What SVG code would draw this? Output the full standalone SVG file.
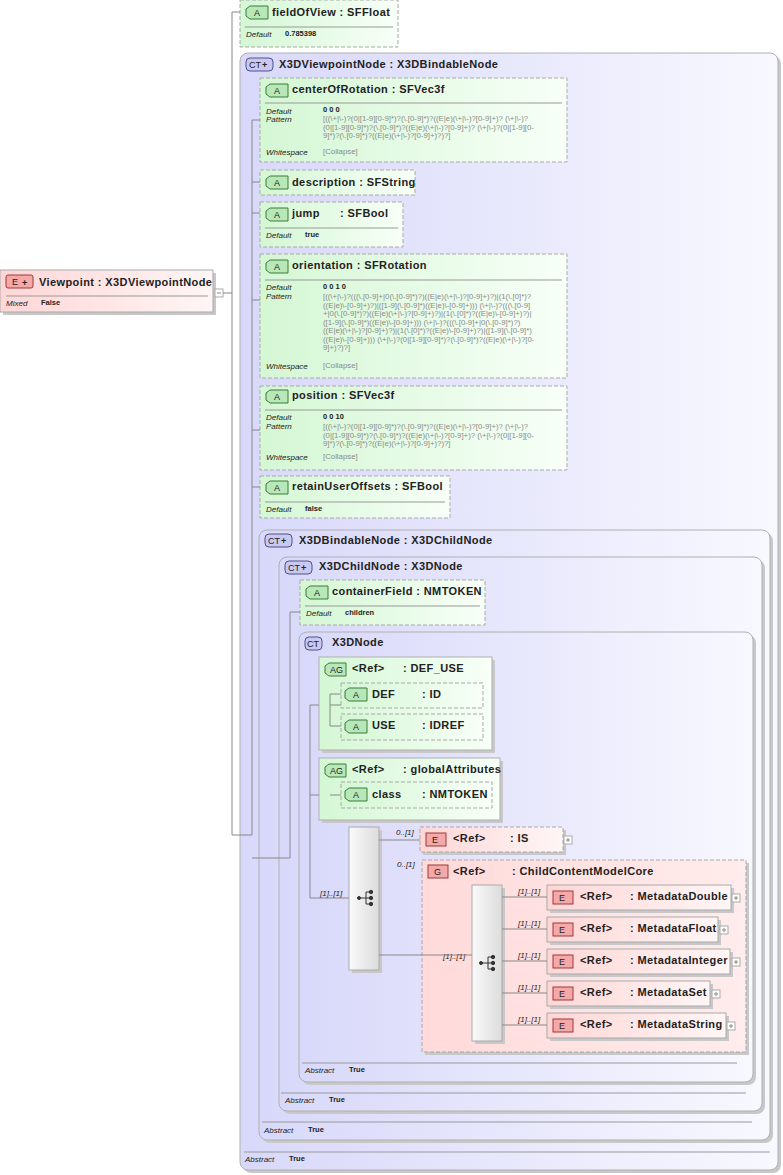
<svg xmlns="http://www.w3.org/2000/svg" width="783" height="1175" viewBox="0 0 783 1175">
<defs>
<linearGradient id="gA" x1="0" y1="0" x2="1" y2="0"><stop offset="0" stop-color="#d4f7d4"/><stop offset="1" stop-color="#f8fff8"/></linearGradient>
<linearGradient id="gE" x1="0" y1="0" x2="1" y2="0"><stop offset="0" stop-color="#ffd6d6"/><stop offset="1" stop-color="#fff6f6"/></linearGradient>
<linearGradient id="gCT" x1="0" y1="0" x2="1" y2="0"><stop offset="0" stop-color="#d8d8fa"/><stop offset="1" stop-color="#f8f8ff"/></linearGradient>
<linearGradient id="gS" x1="0" y1="0" x2="1" y2="0"><stop offset="0" stop-color="#fafafa"/><stop offset="1" stop-color="#dcdcdc"/></linearGradient>
<linearGradient id="gG" x1="0" y1="0" x2="1" y2="0"><stop offset="0" stop-color="#ffdada"/><stop offset="1" stop-color="#ffecec"/></linearGradient>
</defs>
<style>
text{font-family:"Liberation Sans",Arial,sans-serif;fill:#222}
.t{font-size:11px;font-weight:bold;letter-spacing:0.4px}
.k{font-size:8px;font-style:italic}
.v{font-size:7.5px;font-weight:bold}
.p{font-size:7.8px;fill:#8a8a8a}
.m{font-size:8px;font-style:italic}
.b{font-size:9px}
.attr{fill:url(#gA);stroke:#a9a9a9;stroke-dasharray:4,2}
.el{fill:url(#gE);stroke:#a9a9a9}
.eld{fill:url(#gE);stroke:#a9a9a9;stroke-dasharray:4,2}
.ct{fill:url(#gCT);stroke:#b0b0b0}
.ag{fill:url(#gA);stroke:#b0b0b0}
.sh{fill:#c8c8c8}
.sep{stroke:#999;stroke-width:1}
.ln{stroke:#888;fill:none}
.ba{fill:#b8e8b8;stroke:#3c7a3c}
.be{fill:#f4a8a8;stroke:#9a3a3a}
.bc{fill:#c8c8f0;stroke:#50508a}
.pl{fill:#fff;stroke:#aaa}
</style>

<g id="Viewpoint">
<rect x="3" y="273" width="213" height="42" class="sh"/>
<rect x="0" y="270" width="213" height="42" class="el"/>
<rect x="6" y="275" width="27" height="13" rx="2" class="be"/>
<text x="12" y="285" class="b">E</text>
<text x="22" y="286" class="b" font-weight="bold">+</text>
<text x="39" y="286" class="t">Viewpoint : X3DViewpointNode</text>
<line x1="6" y1="296" x2="208" y2="296" class="sep"/>
<text x="6" y="306" class="k">Mixed</text><text x="41" y="305" class="v">False</text>
<rect x="215" y="289" width="8" height="8" class="pl"/><line x1="217" y1="293" x2="221" y2="293" stroke="#888"/>
</g>

<g id="fieldOfView">
<rect x="240" y="0" width="158" height="47" class="attr"/>
<path d="M250,6 h18 v13 h-18 l-4,-3 v-7 z" class="ba"/><text x="254" y="16" class="b">A</text>
<text x="272" y="16" class="t">fieldOfView : SFFloat</text>
<line x1="245" y1="27" x2="393" y2="27" class="sep"/>
<text x="246" y="37" class="k">Default</text><text x="285" y="36" class="v">0.785398</text>
</g>

<g id="X3DViewpointNode">
<rect x="243" y="56" width="538" height="1117" rx="8" class="sh"/>
<rect x="240" y="53" width="538" height="1117" rx="8" class="ct"/>
<rect x="246" y="58" width="27" height="13" rx="4" class="bc"/><text x="249" y="68" class="b">CT</text><text x="262" y="68" class="b" font-weight="bold">+</text>
<text x="279" y="68" class="t">X3DViewpointNode : X3DBindableNode</text>
<line x1="244" y1="1152" x2="770" y2="1152" class="sep"/>
<text x="245" y="1162" class="k">Abstract</text><text x="289" y="1161" class="v">True</text>
</g>

<g id="centerOfRotation">
<rect x="260" y="78" width="307" height="84" class="attr"/>
<path d="M270,84 h18 v13 h-18 l-4,-3 v-7 z" class="ba"/><text x="274" y="94" class="b">A</text>
<text x="292" y="93" class="t">centerOfRotation : SFVec3f</text>
<line x1="265" y1="103" x2="562" y2="103" class="sep"/>
<text x="266" y="114" class="k">Default</text><text x="323" y="112" class="v">0 0 0</text>
<text x="266" y="122" class="k">Pattern</text>
<text class="p"><tspan x="323" y="121">[((\+|\-)?(0|[1-9][0-9]*)?(\.[0-9]*)?((E|e)(\+|\-)?[0-9]+)? (\+|\-)?</tspan><tspan x="323" y="129.5">(0|[1-9][0-9]*)?(\.[0-9]*)?((E|e)(\+|\-)?[0-9]+)? (\+|\-)?(0|[1-9][0-</tspan><tspan x="323" y="138">9]*)?(\.[0-9]*)?((E|e)(\+|\-)?[0-9]+)?)?]</tspan></text>
<text x="266" y="155" class="k">Whitespace</text><text x="323" y="154" class="p">[Collapse]</text>
</g>

<g id="description">
<rect x="260" y="170" width="155" height="25" class="attr"/>
<path d="M270,176 h18 v13 h-18 l-4,-3 v-7 z" class="ba"/><text x="274" y="186" class="b">A</text>
<text x="292" y="186" class="t">description : SFString</text>
</g>

<g id="jump">
<rect x="260" y="202" width="143" height="45" class="attr"/>
<path d="M270,208 h18 v13 h-18 l-4,-3 v-7 z" class="ba"/><text x="274" y="218" class="b">A</text>
<text x="292" y="217" class="t">jump</text><text x="340" y="217" class="t">: SFBool</text>
<line x1="265" y1="228" x2="398" y2="228" class="sep"/>
<text x="266" y="238" class="k">Default</text><text x="305" y="237" class="v">true</text>
</g>

<g id="orientation">
<rect x="260" y="254" width="307" height="124" class="attr"/>
<path d="M270,260 h18 v13 h-18 l-4,-3 v-7 z" class="ba"/><text x="274" y="270" class="b">A</text>
<text x="292" y="269" class="t">orientation : SFRotation</text>
<line x1="265" y1="280" x2="562" y2="280" class="sep"/>
<text x="266" y="290" class="k">Default</text><text x="323" y="289" class="v">0 0 1 0</text>
<text x="266" y="299" class="k">Pattern</text>
<text class="p"><tspan x="323" y="299">[((\+|\-)?(((\.[0-9]+|0(\.[0-9]*)?)((E|e)(\+|\-)?[0-9]+)?)|(1(\.[0]*)?</tspan><tspan x="323" y="307.5">((E|e)\-[0-9]+)?)|([1-9](\.[0-9]*)((E|e)\-[0-9]+))) (\+|\-)?(((\.[0-9]</tspan><tspan x="323" y="316">+|0(\.[0-9]*)?)((E|e)(\+|\-)?[0-9]+)?)|(1(\.[0]*)?((E|e)\-[0-9]+)?)|</tspan><tspan x="323" y="324.5">([1-9](\.[0-9]*)((E|e)\-[0-9]+))) (\+|\-)?(((\.[0-9]+|0(\.[0-9]*)?)</tspan><tspan x="323" y="333">((E|e)(\+|\-)?[0-9]+)?)|(1(\.[0]*)?((E|e)\-[0-9]+)?)|([1-9](\.[0-9]*)</tspan><tspan x="323" y="341.5">((E|e)\-[0-9]+))) (\+|\-)?(0|[1-9][0-9]*)?(\.[0-9]*)?((E|e)(\+|\-)?[0-</tspan><tspan x="323" y="350">9]+)?)?]</tspan></text>
<text x="266" y="369" class="k">Whitespace</text><text x="323" y="368" class="p">[Collapse]</text>
</g>

<g id="position">
<rect x="260" y="386" width="307" height="84" class="attr"/>
<path d="M270,390 h18 v13 h-18 l-4,-3 v-7 z" class="ba"/><text x="274" y="400" class="b">A</text>
<text x="292" y="399" class="t">position  : SFVec3f</text>
<line x1="265" y1="410" x2="562" y2="410" class="sep"/>
<text x="266" y="420" class="k">Default</text><text x="323" y="419" class="v">0 0 10</text>
<text x="266" y="429" class="k">Pattern</text>
<text class="p"><tspan x="323" y="429">[((\+|\-)?(0|[1-9][0-9]*)?(\.[0-9]*)?((E|e)(\+|\-)?[0-9]+)? (\+|\-)?</tspan><tspan x="323" y="437.5">(0|[1-9][0-9]*)?(\.[0-9]*)?((E|e)(\+|\-)?[0-9]+)? (\+|\-)?(0|[1-9][0-</tspan><tspan x="323" y="446">9]*)?(\.[0-9]*)?((E|e)(\+|\-)?[0-9]+)?)?]</tspan></text>
<text x="266" y="460" class="k">Whitespace</text><text x="323" y="459" class="p">[Collapse]</text>
</g>

<g id="retainUserOffsets">
<rect x="260" y="476" width="190" height="42" class="attr"/>
<path d="M270,481 h18 v13 h-18 l-4,-3 v-7 z" class="ba"/><text x="274" y="491" class="b">A</text>
<text x="292" y="490" class="t">retainUserOffsets : SFBool</text>
<line x1="265" y1="502" x2="445" y2="502" class="sep"/>
<text x="266" y="512" class="k">Default</text><text x="305" y="511" class="v">false</text>
</g>

<g id="X3DBindableNode">
<rect x="262" y="533" width="511" height="610" rx="8" class="sh"/>
<rect x="259" y="530" width="511" height="610" rx="8" class="ct"/>
<rect x="265" y="534" width="27" height="13" rx="4" class="bc"/><text x="268" y="544" class="b">CT</text><text x="281" y="544" class="b" font-weight="bold">+</text>
<text x="299" y="544" class="t">X3DBindableNode : X3DChildNode</text>
<line x1="262" y1="1122" x2="752" y2="1122" class="sep"/>
<text x="264" y="1133" class="k">Abstract</text><text x="308" y="1132" class="v">True</text>
</g>

<g id="X3DChildNode">
<rect x="282" y="560" width="483" height="554" rx="8" class="sh"/>
<rect x="279" y="557" width="483" height="554" rx="8" class="ct"/>
<rect x="285" y="561" width="27" height="13" rx="4" class="bc"/><text x="288" y="571" class="b">CT</text><text x="301" y="571" class="b" font-weight="bold">+</text>
<text x="319" y="570" class="t">X3DChildNode : X3DNode</text>
<line x1="281" y1="1093" x2="746" y2="1093" class="sep"/>
<text x="285" y="1103" class="k">Abstract</text><text x="329" y="1102" class="v">True</text>
</g>

<g id="containerField">
<rect x="300" y="580" width="185" height="45" class="attr"/>
<path d="M310,586 h18 v13 h-18 l-4,-3 v-7 z" class="ba"/><text x="314" y="596" class="b">A</text>
<text x="332" y="595" class="t">containerField : NMTOKEN</text>
<line x1="305" y1="606" x2="480" y2="606" class="sep"/>
<text x="306" y="616" class="k">Default</text><text x="345" y="615" class="v">children</text>
</g>

<g id="X3DNode">
<rect x="302" y="635" width="454" height="450" rx="8" class="sh"/>
<rect x="299" y="632" width="454" height="450" rx="8" class="ct"/>
<rect x="305" y="637" width="17" height="13" rx="4" class="bc"/><text x="307" y="647" class="b">CT</text>
<text x="332" y="646" class="t">X3DNode</text>
<line x1="302" y1="1063" x2="737" y2="1063" class="sep"/>
<text x="305" y="1073" class="k">Abstract</text><text x="349" y="1072" class="v">True</text>
</g>

<g id="DEF_USE">
<rect x="322" y="660" width="173" height="93" class="sh"/>
<rect x="319" y="657" width="173" height="93" class="ag"/>
<path d="M329,663 h17 v13 h-17 l-4,-3 v-7 z" class="ba"/><text x="330" y="673" class="b">AG</text>
<text x="352" y="672" class="t" font-weight="normal">&lt;Ref&gt;</text><text x="403" y="672" class="t" font-weight="normal">: DEF_USE</text>
</g>
<g id="DEF">
<rect x="341" y="683" width="142" height="25" class="attr"/>
<path d="M349,688 h18 v13 h-18 l-4,-3 v-7 z" class="ba"/><text x="353" y="698" class="b">A</text>
<text x="372" y="698" class="t">DEF</text><text x="422" y="698" class="t">: ID</text>
</g>
<g id="USE">
<rect x="341" y="714" width="142" height="26" class="attr"/>
<path d="M349,720 h18 v13 h-18 l-4,-3 v-7 z" class="ba"/><text x="353" y="730" class="b">A</text>
<text x="372" y="729" class="t">USE</text><text x="422" y="729" class="t">: IDREF</text>
</g>

<g id="globalAttributes">
<rect x="322" y="761" width="181" height="62" class="sh"/>
<rect x="319" y="758" width="181" height="62" class="ag"/>
<path d="M329,764 h17 v13 h-17 l-4,-3 v-7 z" class="ba"/><text x="330" y="774" class="b">AG</text>
<text x="352" y="773" class="t" font-weight="normal">&lt;Ref&gt;</text><text x="403" y="773" class="t" font-weight="normal">: globalAttributes</text>
</g>
<g id="class">
<rect x="341" y="782" width="151" height="26" class="attr"/>
<path d="M349,788 h18 v13 h-18 l-4,-3 v-7 z" class="ba"/><text x="353" y="798" class="b">A</text>
<text x="372" y="798" class="t">class</text><text x="422" y="798" class="t">: NMTOKEN</text>
</g>

<g id="sequence1">
<rect x="352" y="830" width="30" height="143" class="sh"/>
<rect x="349" y="827" width="30" height="143" fill="url(#gS)" stroke="#aaa"/>
<g stroke="#333" fill="#333"><circle cx="359" cy="898" r="1.5"/><path d="M359,898 H366 M366,892 V904 M366,892 H371 M366,898 H371 M366,904 H371" fill="none"/><circle cx="371" cy="892" r="1.7"/><circle cx="371" cy="898" r="1.7"/><circle cx="371" cy="904" r="1.7"/></g>
<text x="320" y="896" class="m">[1]..[1]</text>
</g>

<g id="IS">
<rect x="423" y="830" width="143" height="25" class="sh"/>
<rect x="420" y="827" width="143" height="25" class="eld"/>
<rect x="426" y="833" width="20" height="13" class="be"/><text x="432" y="843" class="b">E</text>
<text x="453" y="842" class="t" font-weight="normal">&lt;Ref&gt;</text><text x="510" y="842" class="t">: IS</text>
<rect x="564" y="836" width="8" height="8" class="pl"/><path d="M566,840 h4 M568,838 v4" stroke="#888"/>
<text x="396" y="835" class="m">0..[1]</text>
</g>

<g id="ChildContentModelCore">
<rect x="425" y="863" width="324" height="192" class="sh"/>
<rect x="422" y="860" width="324" height="192" fill="url(#gG)" stroke="#a9a9a9" stroke-dasharray="4,2"/>
<rect x="428" y="865" width="20" height="13" class="be"/><text x="434" y="875" class="b">G</text>
<text x="453" y="875" class="t" font-weight="normal">&lt;Ref&gt;</text><text x="512" y="875" class="t" font-weight="normal">: ChildContentModelCore</text>
<text x="397" y="867" class="m">0..[1]</text>
<text x="443" y="959" class="m">[1]..[1]</text>
</g>

<g id="sequence2">
<rect x="475" y="888" width="30" height="156" class="sh"/>
<rect x="472" y="885" width="30" height="156" fill="url(#gS)" stroke="#aaa"/>
<g stroke="#333" fill="#333"><circle cx="481" cy="963" r="1.5"/><path d="M481,963 H488 M488,957 V969 M488,957 H493 M488,963 H493 M488,969 H493" fill="none"/><circle cx="493" cy="957" r="1.7"/><circle cx="493" cy="963" r="1.7"/><circle cx="493" cy="969" r="1.7"/></g>
</g>

<g id="MetadataDouble">
<rect x="550" y="888" width="184" height="25" class="sh"/>
<rect x="547" y="885" width="184" height="25" class="el"/>
<rect x="553" y="891" width="20" height="13" class="be"/><text x="559" y="901" class="b">E</text>
<text x="580" y="900" class="t" font-weight="normal">&lt;Ref&gt;</text><text x="630" y="900" class="t">: MetadataDouble</text>
<rect x="732" y="894" width="8" height="8" class="pl"/><path d="M734,898 h4 M736,896 v4" stroke="#888"/>
<text x="518" y="894" class="m">[1]..[1]</text>
</g>
<g id="MetadataFloat">
<rect x="550" y="920" width="171" height="25" class="sh"/>
<rect x="547" y="917" width="171" height="25" class="el"/>
<rect x="553" y="923" width="20" height="13" class="be"/><text x="559" y="933" class="b">E</text>
<text x="580" y="932" class="t" font-weight="normal">&lt;Ref&gt;</text><text x="630" y="932" class="t">: MetadataFloat</text>
<rect x="720" y="926" width="8" height="8" class="pl"/><path d="M722,930 h4 M724,928 v4" stroke="#888"/>
<text x="518" y="926" class="m">[1]..[1]</text>
</g>
<g id="MetadataInteger">
<rect x="550" y="952" width="183" height="25" class="sh"/>
<rect x="547" y="949" width="183" height="25" class="el"/>
<rect x="553" y="955" width="20" height="13" class="be"/><text x="559" y="965" class="b">E</text>
<text x="580" y="964" class="t" font-weight="normal">&lt;Ref&gt;</text><text x="630" y="964" class="t">: MetadataInteger</text>
<rect x="732" y="958" width="8" height="8" class="pl"/><path d="M734,962 h4 M736,960 v4" stroke="#888"/>
<text x="518" y="958" class="m">[1]..[1]</text>
</g>
<g id="MetadataSet">
<rect x="550" y="984" width="163" height="25" class="sh"/>
<rect x="547" y="981" width="163" height="25" class="el"/>
<rect x="553" y="987" width="20" height="13" class="be"/><text x="559" y="997" class="b">E</text>
<text x="580" y="996" class="t" font-weight="normal">&lt;Ref&gt;</text><text x="630" y="996" class="t">: MetadataSet</text>
<rect x="712" y="990" width="8" height="8" class="pl"/><path d="M714,994 h4 M716,992 v4" stroke="#888"/>
<text x="518" y="990" class="m">[1]..[1]</text>
</g>
<g id="MetadataString">
<rect x="550" y="1016" width="179" height="25" class="sh"/>
<rect x="547" y="1013" width="179" height="25" class="el"/>
<rect x="553" y="1019" width="20" height="13" class="be"/><text x="559" y="1029" class="b">E</text>
<text x="580" y="1028" class="t" font-weight="normal">&lt;Ref&gt;</text><text x="630" y="1028" class="t">: MetadataString</text>
<rect x="727" y="1022" width="8" height="8" class="pl"/><path d="M729,1026 h4 M731,1024 v4" stroke="#888"/>
<text x="518" y="1022" class="m">[1]..[1]</text>
</g>

<g id="connectors" class="ln">
<path d="M223,293 H232 M232,12 V835 M232,12 H240 M232,835 H252"/>
<path d="M252,120 V835 M252,120 H260 M252,182 H260 M252,213 H260 M252,300 H260 M252,430 H260 M252,487 H260"/>
<path d="M252,858 H290"/>
<path d="M290,612 V858 M290,612 H300"/>
<path d="M310,705 V898 M310,705 H319 M310,795 H319 M310,898 H349"/>
<path d="M330,705 H341 M330,694 V726 M330,694 H341 M330,726 H341"/>
<path d="M330,795 H341"/>
<path d="M379,840 H420 M379,955 H472"/>
<path d="M502,897 H547 M502,929 H547 M502,961 H547 M502,993 H547 M502,1025 H547"/>
</g>
</svg>
